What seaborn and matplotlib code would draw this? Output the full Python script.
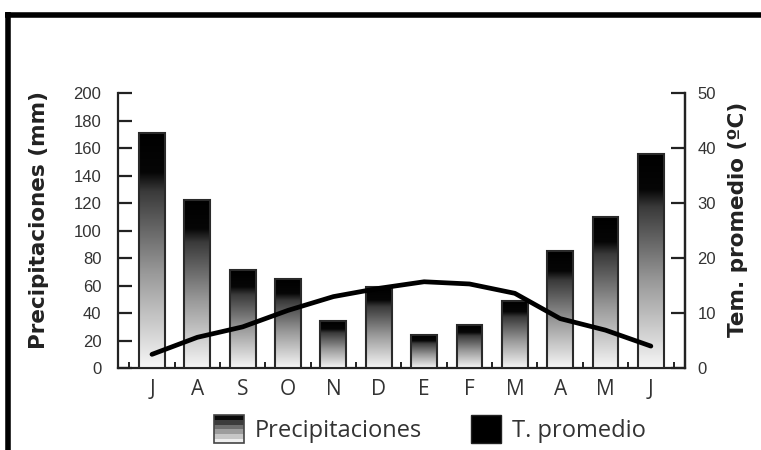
import numpy as np
import pandas as pd
import matplotlib
matplotlib.use("Agg")
import matplotlib.pyplot as plt
import seaborn as sns
from matplotlib.colors import LinearSegmentedColormap
from matplotlib.patches import Rectangle, Patch
from matplotlib.legend_handler import HandlerBase
from matplotlib.lines import Line2D

# Datos del climograma (julio a junio)
meses = ["Julio", "Agosto", "Septiembre", "Octubre", "Noviembre", "Diciembre",
         "Enero", "Febrero", "Marzo", "Abril", "Mayo", "Junio"]
etiquetas = ["J", "A", "S", "O", "N", "D", "E", "F", "M", "A", "M", "J"]
precipitaciones = [171, 122, 71, 65, 34, 59, 24, 31, 49, 85, 110, 156]
temperatura = [2.5, 5.6, 7.5, 10.5, 13.0, 14.5, 15.7, 15.3, 13.6, 9.0, 6.9, 4.0]
ticks_precip = [0, 20, 40, 60, 80, 100, 120, 140, 160, 180, 200]
ticks_temp = [0, 10, 20, 30, 40, 50]

sns.set_theme(style="white")
plt.rcParams["font.family"] = ["Liberation Sans", "DejaVu Sans"]

TINTA = "#222222"
FUENTE_TITULO = {"family": "DejaVu Sans", "size": 15.5, "weight": "bold"}

fig = plt.figure(figsize=(7.61, 4.5), dpi=100)
ax = fig.add_axes([0.155, 0.182, 0.745, 0.611])

df = pd.DataFrame({"mes": meses, "precip": precipitaciones, "temp": temperatura})

sns.barplot(data=df, x="mes", y="precip", order=meses, width=0.57,
            color="white", edgecolor="#2a2a2a", linewidth=1.5, ax=ax, zorder=3)

# Degradado vertical dentro de cada barra: negro arriba, blanco abajo
cmap = LinearSegmentedColormap.from_list(
    "lluvia",
    [(0.0, "#000000"), (0.17, "#060606"), (0.25, "#3a3a3a"),
     (0.6, "#9a9a9a"), (1.0, "#f6f6f6")])
grad = np.linspace(0, 1, 256).reshape(-1, 1)
for bar in list(ax.patches):
    x0, y0 = bar.get_x(), bar.get_y()
    w, h = bar.get_width(), bar.get_height()
    im = ax.imshow(grad, cmap=cmap, vmin=0, vmax=1,
                   extent=[x0, x0 + w, y0, y0 + h], origin="upper",
                   aspect="auto", interpolation="bilinear", zorder=2.9)
    im.set_clip_path(bar)
    bar.set_facecolor("none")

ax.set_xlim(-0.75, 11.75)
ax.set_ylim(0, 200)
ax.set_yticks(ticks_precip)
ax.set_xticks(range(len(etiquetas)))
ax.set_xticklabels(etiquetas, fontfamily="Open Sans", fontsize=15, color="#333333")
ax.set_xticks(np.arange(-0.5, 12, 1), minor=True)
ax.tick_params(axis="x", which="major", length=0, pad=8)
ax.tick_params(axis="x", which="minor", direction="in", length=4, width=1.4,
               color=TINTA, bottom=True)
ax.tick_params(axis="y", direction="in", length=10, width=1.6, color=TINTA,
               labelsize=12, labelcolor="#333333", pad=12, left=True)
ax.set_xlabel("")
ax.set_ylabel("Precipitaciones (mm)", fontdict=FUENTE_TITULO, color=TINTA)
ax.yaxis.set_label_coords(-0.122, 0.54)

for lado in ["left", "bottom", "right"]:
    ax.spines[lado].set_visible(True)
    ax.spines[lado].set_color(TINTA)
    ax.spines[lado].set_linewidth(1.6)
ax.spines["top"].set_visible(False)

# Temperatura media en el eje derecho
ax2 = ax.twinx()
sns.lineplot(x=np.arange(len(temperatura)), y=temperatura, ax=ax2,
             color="black", linewidth=3.4, solid_capstyle="round",
             solid_joinstyle="round", zorder=4)
ax2.set_ylim(0, 50)
ax2.set_yticks(ticks_temp)
ax2.tick_params(axis="y", direction="in", length=10, width=1.6, color=TINTA,
                labelsize=12, labelcolor="#333333", pad=9, right=True)
ax2.set_ylabel("Tem. promedio (ºC)", fontdict=FUENTE_TITULO, color=TINTA)
ax2.yaxis.set_label_coords(1.076, 0.54)
for lado in ["left", "bottom", "top"]:
    ax2.spines[lado].set_visible(False)
ax2.spines["right"].set_color(TINTA)
ax2.spines["right"].set_linewidth(1.6)
ax2.grid(False)
ax.grid(False)


class HandlerBandas(HandlerBase):
    """Muestra de leyenda con bandas de gris de oscuro a claro."""

    def create_artists(self, legend, orig_handle, xdescent, ydescent,
                       width, height, fontsize, trans):
        tonos = ["#0a0a0a", "#3c3c3c", "#6e6e6e", "#9c9c9c", "#c6c6c6", "#eeeeee"]
        n = len(tonos)
        artistas = []
        for i, t in enumerate(tonos):
            r = Rectangle((-xdescent, -ydescent + height * (1 - (i + 1) / n)),
                          width, height / n, facecolor=t, edgecolor="none",
                          transform=trans)
            artistas.append(r)
        artistas.append(Rectangle((-xdescent, -ydescent), width, height,
                                  fill=False, edgecolor="#444444", lw=1.2,
                                  transform=trans))
        return artistas


h_precip = Patch(facecolor="white", label="Precipitaciones")
h_temp = Patch(facecolor="black", edgecolor="#222222", label="T. promedio")
fig.legend(handles=[h_precip, h_temp],
           labels=["Precipitaciones", "T. promedio"],
           handler_map={h_precip: HandlerBandas()},
           loc="center", bbox_to_anchor=(0.565, 0.046), ncol=2, frameon=False,
           prop={"family": "Open Sans", "size": 17}, labelcolor="#333333",
           handlelength=1.27, handleheight=1.45, handletextpad=0.45,
           columnspacing=2.1, borderpad=0.1)

# Marco grueso superior e izquierdo
fig.add_artist(Line2D([5 / 761, 1], [1 - 14.5 / 450] * 2, transform=fig.transFigure,
                      color="black", lw=4.0, solid_capstyle="butt"))
fig.add_artist(Line2D([8 / 761] * 2, [0, 1 - 12 / 450], transform=fig.transFigure,
                      color="black", lw=4.0, solid_capstyle="butt"))

fig.savefig("out.png", dpi=100)
